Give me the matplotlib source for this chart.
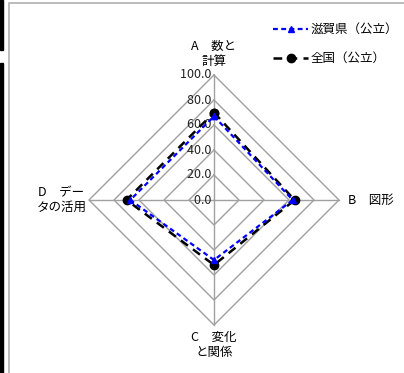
import numpy as np
import matplotlib
matplotlib.use('Agg')
import matplotlib.pyplot as plt
from matplotlib.patches import Rectangle
from matplotlib.lines import Line2D

plt.rcParams['font.family'] = ['Noto Sans CJK JP', 'DejaVu Sans']

# data
categories = ['A\u3000数と\n計算', 'B\u3000図形', 'C\u3000変化\nと関係', 'D\u3000デー\nタの活用']
shiga = [67.0, 63.0, 48.0, 67.0]
zenkoku = [70.0, 64.5, 52.0, 70.0]
ticks = [0, 20, 40, 60, 80, 100]
tick_labels = ['0.0', '20.0', '40.0', '60.0', '80.0', '100.0']
series_names = ['滋賀県（公立）', '全国（公立）']

W, H = 404, 373
fig = plt.figure(figsize=(W / 100, H / 100), dpi=100)

# page bits around the chart (cropped screenshot)
fig.patches.append(Rectangle((0, 1 - 50 / H), 3 / W, 50 / H, transform=fig.transFigure,
                             color='black', zorder=0))
fig.patches.append(Rectangle((0, 0), 3 / W, 1 - 63 / H, transform=fig.transFigure,
                             color='black', zorder=0))
fig.patches.append(Rectangle((9 / W, -0.1), 1.2, 1.1 - 3 / H, transform=fig.transFigure,
                             fill=False, edgecolor='#b0b0b0', lw=1.2, zorder=0))

cx, cy, R = 214, 200, 125
ax = fig.add_axes([(cx - R) / W, (H - cy - R) / H, 2 * R / W, 2 * R / H], projection='polar')
ax.set_theta_offset(np.pi / 2)
ax.set_theta_direction(-1)
ax.set_ylim(0, 100)
ax.grid(False)
ax.spines['polar'].set_visible(False)
ax.set_xticks([])
ax.set_yticks([])
ax.patch.set_alpha(0)

angles = np.arange(len(categories)) * 2 * np.pi / len(categories)
closed = np.append(angles, angles[0])

# diamond rings and spokes
for t in ticks[1:]:
    ax.plot(closed, [t] * len(closed), color='#a0a0a0', lw=1.0, zorder=1, clip_on=False)
for a in angles:
    ax.plot([a, a], [0, 100], color='#a0a0a0', lw=1.0, zorder=1, clip_on=False)

for t, lab in zip(ticks, tick_labels):
    ax.text(0, t, lab + ' ', ha='right', va='center', fontsize=9, color='#222222')

ax.plot(closed, np.append(zenkoku, zenkoku[0]), color='black', lw=1.8, ls=(0, (3.5, 2.5)),
        marker='o', ms=6, zorder=3, clip_on=False)
ax.plot(closed, np.append(shiga, shiga[0]), color='#0000ff', lw=1.6, ls=(0, (2.2, 1.5)),
        marker='^', ms=5, zorder=4, clip_on=False)

# axis category labels
ax.text(angles[0], 117, categories[0], ha='center', va='center', fontsize=9)
ax.text(angles[1], 107, categories[1], ha='left', va='center', fontsize=9)
ax.text(angles[2], 116, categories[2], ha='center', va='center', fontsize=9)
ax.text(angles[3], 122, categories[3], ha='center', va='center', fontsize=9)

handles = [
    Line2D([], [], color='#0000ff', lw=1.6, ls=(0, (2.2, 1.5)), marker='^', ms=5),
    Line2D([], [], color='black', lw=1.8, ls=(0, (3.5, 2.5)), marker='o', ms=6),
]
fig.legend(handles, series_names, loc='upper left', bbox_to_anchor=(268 / W, 1 - 18 / H),
           frameon=False, fontsize=9, handlelength=2.8, handletextpad=0.2,
           labelspacing=1.3, borderaxespad=0)

fig.savefig('out.png', dpi=100)
